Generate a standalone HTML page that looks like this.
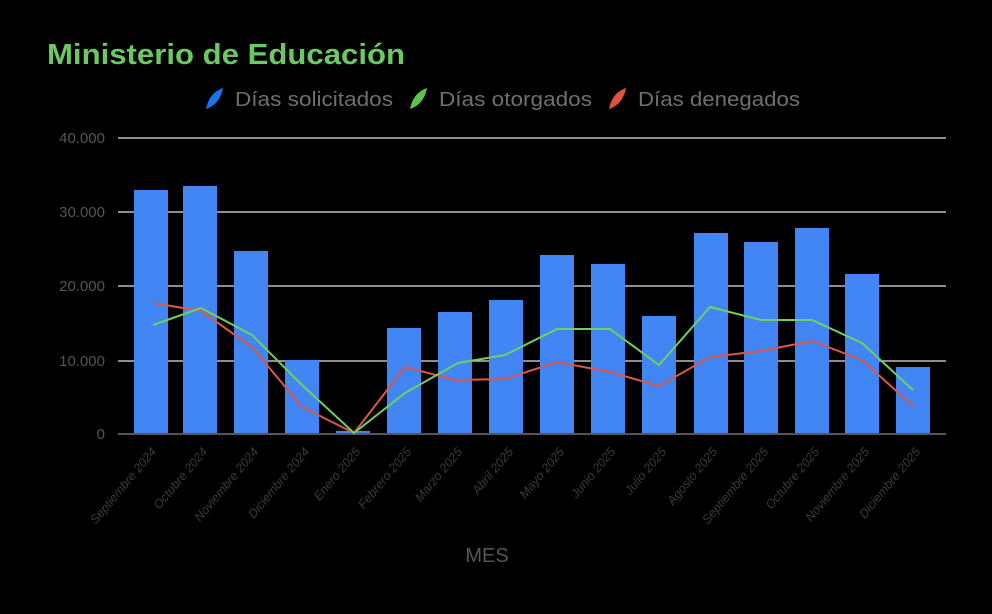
<!DOCTYPE html>
<html><head><meta charset="utf-8"><style>
html,body{margin:0;padding:0;background:#000;}
svg{display:block;}
</style></head><body>
<svg width="992" height="614" viewBox="0 0 992 614" xmlns="http://www.w3.org/2000/svg" font-family="Liberation Sans, DejaVu Sans, sans-serif">
<rect width="992" height="614" fill="#000"/>
<text x="47" y="64" fill="#6cc862" font-size="29" font-weight="bold" textLength="358" lengthAdjust="spacingAndGlyphs">Ministerio de Educación</text>
<g font-size="20" fill="#6f6f6f">
<path d="M206 109 C208 98 214 91 223 88 C221 99 215 106 206 109Z" fill="#1a73e8"/>
<text x="235" y="106" textLength="158" lengthAdjust="spacingAndGlyphs">Días solicitados</text>
<path d="M410 109 C412 98 418 91 427 88 C425 99 419 106 410 109Z" fill="#5cc24a"/>
<text x="439" y="106" textLength="153" lengthAdjust="spacingAndGlyphs">Días otorgados</text>
<path d="M609 109 C611 98 617 91 626 88 C624 99 618 106 609 109Z" fill="#e0533f"/>
<text x="638" y="106" textLength="162" lengthAdjust="spacingAndGlyphs">Días denegados</text>
</g>
<g stroke="#bdbdbd" stroke-width="1.5">
<line x1="118" y1="138" x2="946" y2="138"/>
<line x1="118" y1="212" x2="946" y2="212"/>
<line x1="118" y1="286" x2="946" y2="286"/>
<line x1="118" y1="361" x2="946" y2="361"/>
</g>
<g font-size="15" fill="#555" text-anchor="end">
<text x="105" y="143">40.000</text>
<text x="105" y="217">30.000</text>
<text x="105" y="291">20.000</text>
<text x="105" y="366">10.000</text>
<text x="105" y="439">0</text>
</g>
<g fill="#4285f4">
<rect x="134" y="190" width="34" height="244"/>
<rect x="183" y="186" width="34" height="248"/>
<rect x="234" y="251" width="34" height="183"/>
<rect x="285" y="360" width="34" height="74"/>
<rect x="336" y="431" width="34" height="3"/>
<rect x="387" y="328" width="34" height="106"/>
<rect x="438" y="312" width="34" height="122"/>
<rect x="489" y="300" width="34" height="134"/>
<rect x="540" y="255" width="34" height="179"/>
<rect x="591" y="264" width="34" height="170"/>
<rect x="642" y="316" width="34" height="118"/>
<rect x="694" y="233" width="34" height="201"/>
<rect x="744" y="242" width="34" height="192"/>
<rect x="795" y="228" width="34" height="206"/>
<rect x="845" y="274" width="34" height="160"/>
<rect x="896" y="367" width="34" height="67"/>
</g>
<line x1="118" y1="434" x2="946" y2="434" stroke="#555" stroke-width="2"/>
<polyline fill="none" stroke="#d9584a" stroke-width="2" points="153,303 201,311 252,347 302,407 354,433 405,367 455,380 505,379 557,362 610,372 659,386 710,357 761,351 812,341 862,360 913,406"/>
<polyline fill="none" stroke="#6fcf62" stroke-width="2" points="153,325 201,308 252,335 302,385 354,433 405,393 458,363 505,355 557,329 610,329 659,365 710,307 761,320 812,320 862,343 913,390"/>
<g font-size="12.5" fill="#3a3a3a" font-style="italic" text-anchor="end">
<text transform="translate(157,452) rotate(-50)">Septiembre 2024</text>
<text transform="translate(208,452) rotate(-50)">Octubre 2024</text>
<text transform="translate(259,452) rotate(-50)">Noviembre 2024</text>
<text transform="translate(310,452) rotate(-50)">Diciembre 2024</text>
<text transform="translate(361,452) rotate(-50)">Enero 2025</text>
<text transform="translate(412,452) rotate(-50)">Febrero 2025</text>
<text transform="translate(463,452) rotate(-50)">Marzo 2025</text>
<text transform="translate(514,452) rotate(-50)">Abril 2025</text>
<text transform="translate(565,452) rotate(-50)">Mayo 2025</text>
<text transform="translate(616,452) rotate(-50)">Junio 2025</text>
<text transform="translate(667,452) rotate(-50)">Julio 2025</text>
<text transform="translate(718,452) rotate(-50)">Agosto 2025</text>
<text transform="translate(769,452) rotate(-50)">Septiembre 2025</text>
<text transform="translate(820,452) rotate(-50)">Octubre 2025</text>
<text transform="translate(870,452) rotate(-50)">Noviembre 2025</text>
<text transform="translate(921,452) rotate(-50)">Diciembre 2025</text>
</g>
<text x="487" y="562" font-size="20" fill="#555" text-anchor="middle">MES</text>
</svg>
</body></html>
